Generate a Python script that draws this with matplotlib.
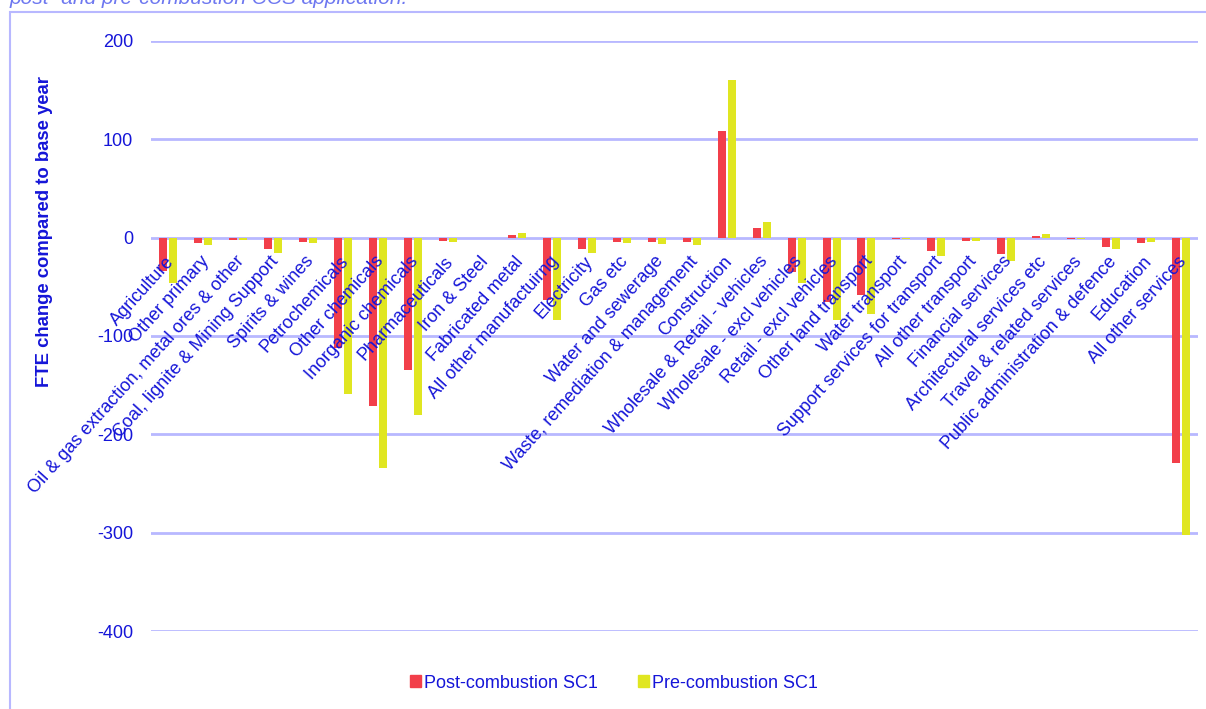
import matplotlib
matplotlib.use("Agg")
import matplotlib.pyplot as plt
import matplotlib.patches as mpatches
from matplotlib.transforms import offset_copy
import numpy as np

plt.rcParams['font.family'] = ['Liberation Sans', 'DejaVu Sans']

categories = [
    "Agriculture", "Other primary", "Oil & gas extraction, metal ores & other",
    "Coal, lignite & Mining Support", "Spirits & wines", "Petrochemicals",
    "Other chemicals", "Inorganic chemicals", "Pharmaceuticals", "Iron & Steel",
    "Fabricated metal", "All other manufactuirng", "Electricity", "Gas etc",
    "Water and sewerage", "Waste, remediation & management", "Construction",
    "Wholesale & Retail - vehicles", "Wholesale - excl vehicles",
    "Retail - excl vehicles", "Other land transport", "Water transport",
    "Support services for transport", "All other transport", "Financial services",
    "Architectural services etc", "Travel & related services",
    "Public administration & defence", "Education", "All other services",
]
post_combustion = [-34, -5, -2, -12, -4, -112, -171, -135, -3, 0,
                   3, -63, -12, -4, -4, -4, 108, 10, -35, -65,
                   -58, -1, -14, -3, -17, 2, -1, -9, -5, -229]
pre_combustion = [-46, -7, -2, -16, -5, -159, -234, -180, -4, 0,
                  5, -84, -16, -5, -6, -7, 160, 16, -46, -84,
                  -78, -1, -19, -3, -24, 4, -1, -12, -4, -302]
series_names = ["Post-combustion SC1", "Pre-combustion SC1"]
yticks = [200, 100, 0, -100, -200, -300, -400]

RED = "#F23F4A"
YEL = "#E0E621"
BLUE = "#1515D8"
GRID = "#B8B8FF"

W, H = 1206, 709
fig = plt.figure(figsize=(W / 100, H / 100), dpi=100)

# axes placement in pixels
left, right, top, bottom = 151, 1198, 41, 631
ax = fig.add_axes([left / W, 1 - bottom / H, (right - left) / W, (bottom - top) / H])

x = np.arange(len(categories))
bw = 0.23
off = 0.143
ax.bar(x - off, post_combustion, width=bw, color=RED, label=series_names[0], zorder=3)
ax.bar(x + off, pre_combustion, width=bw, color=YEL, label=series_names[1], zorder=3)

ax.set_xlim(-0.5, len(categories) - 0.5)
ax.set_ylim(-400, 200)
ax.set_yticks(yticks)
ax.set_yticklabels([str(v) for v in yticks], color=BLUE, fontsize=13)
ax.tick_params(axis='y', length=0, pad=13)
ax.set_xticks([])
ax.grid(axis='y', color=GRID, linewidth=2, zorder=0)
for s in ax.spines.values():
    s.set_visible(False)
ax.patch.set_alpha(0)

# category labels rotated at the zero line
trans = offset_copy(ax.transData, fig=fig, x=3, y=-21, units='dots')
for i, c in enumerate(categories):
    ax.text(i, 0, c, rotation=48, rotation_mode='anchor', ha='right', va='center',
            color=BLUE, fontsize=13, transform=trans, zorder=4)

fig.text(45 / W, 1 - 232 / H, "FTE change compared to base year", rotation=90,
         ha='center', va='center', color=BLUE, fontsize=13.3, fontweight='bold')

# legend
handles = [mpatches.Patch(color=RED), mpatches.Patch(color=YEL)]
fig.legend(handles, series_names, loc='center', bbox_to_anchor=(614 / W, 1 - 683 / H),
           ncol=2, frameon=False, fontsize=13, labelcolor=BLUE,
           handlelength=0.6, handleheight=0.6, handletextpad=0.2, columnspacing=2.2)

# outer frame
fig.add_artist(mpatches.Rectangle((10 / W, -0.1), (W - 10) / W + 0.1, 1.1 - 12 / H,
                                  transform=fig.transFigure, fill=False,
                                  edgecolor=GRID, linewidth=1.5))

# partially visible caption at top
fig.text(10 / W, 1 - 4 / H, "post- and pre-combustion CCS application.",
         ha='left', va='baseline', color="#6E78F0", fontsize=15, style='italic')

fig.savefig("out.png", dpi=100)
